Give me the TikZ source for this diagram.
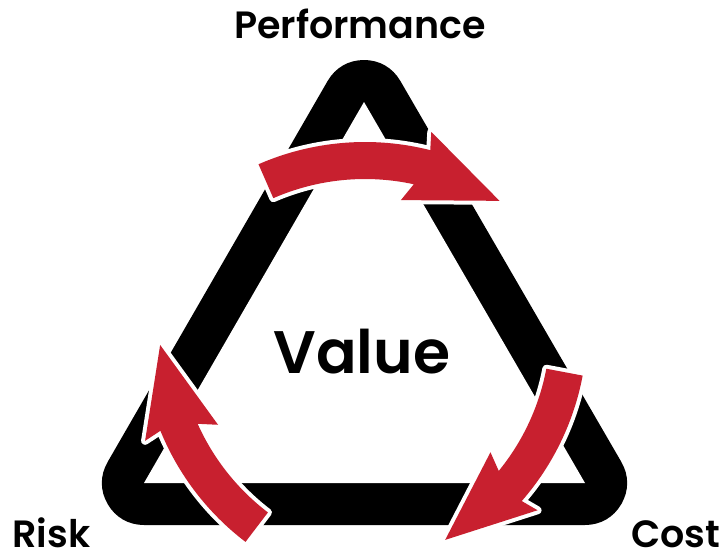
\documentclass[tikz,border=0pt]{standalone}
\usepackage{fontspec}
\setmainfont{Poppins}[BoldFont={Poppins SemiBold}]
\usepackage{tikz}
\definecolor{loopred}{HTML}{C8202F}

\begin{document}
\begin{tikzpicture}[x=1pt,y=-1pt,
  corner/.style={font=\fontsize{38}{40}\selectfont\bfseries,inner sep=0pt},
  centre/.style={font=\fontsize{60}{64}\selectfont\bfseries,inner sep=0pt},
  cyclearrow/.style={fill=loopred,preaction={draw=white,line width=8pt,line join=round}}]
\useasboundingbox (0,0) rectangle (726,552);
% Black band: sharp inner triangle, corners rounded by the band width
\coordinate (top) at (364,102);
\coordinate (left) at (144,483);
\coordinate (right) at (585,483);
\draw[line width=84pt,line join=round,fill=black] (top)--(left)--(right)--cycle;
\fill[white] (top)--(left)--(right)--cycle;
% Three red arrows turning clockwise: arc centre, tail angle, tip angle
\foreach \cx/\cy/\tail/\tip in {365/408/113.6/57,321.3/326.2/-10.7/-59.9,406.7/330.3/232.7/183.4} {
\pgfmathsetmacro\headin{\tip+20.7}
\pgfmathsetmacro\barbin{\tip+23.2}
\pgfmathsetmacro\barbout{\tip+19.5}
\pgfmathsetmacro\headout{\tip+18.8}
\begin{scope}[shift={(\cx,\cy)},yscale=-1]
\path[cyclearrow] (\tail:229) arc[start angle=\tail,end angle=\headin,radius=229]
  -- (\barbin:211) -- (\tip:247) -- (\barbout:284) -- (\headout:266)
  arc[start angle=\headout,end angle=\tail,radius=266] -- cycle;
\end{scope}
}
\node[corner,anchor=base] (perf) at (360,38) {Performance};
\node[corner,anchor=base] (risk) at (51.5,547) {Risk};
\node[corner,anchor=base] (cost) at (676,547) {Cost};
\node[centre,anchor=base] (value) at (362,373) {Value};
\end{tikzpicture}
\end{document}
